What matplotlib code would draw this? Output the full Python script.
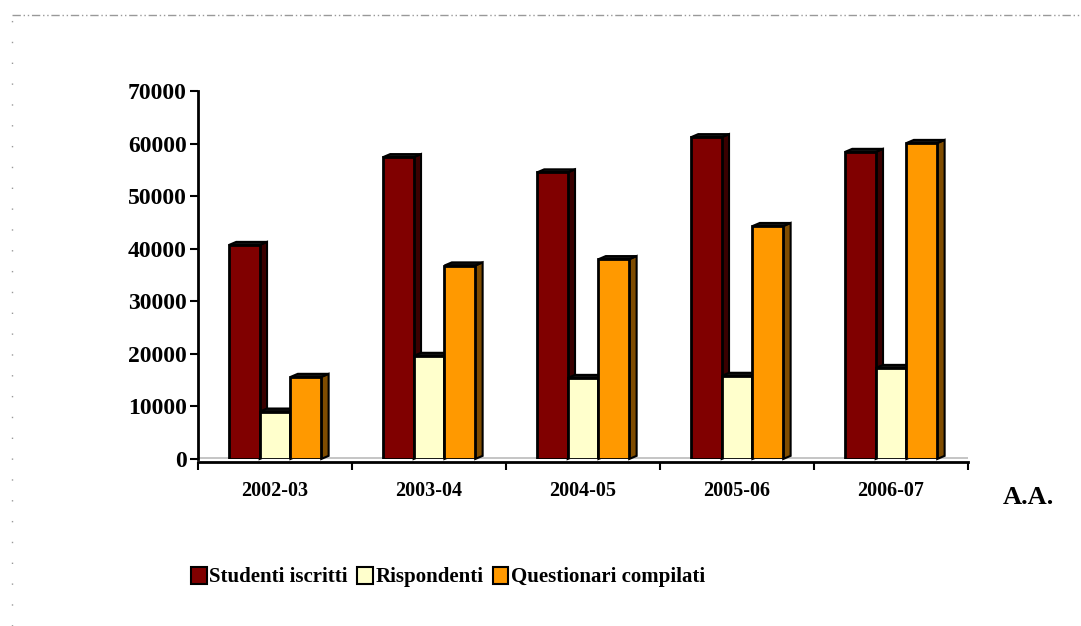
import matplotlib.pyplot as plt
from matplotlib.patches import Polygon, Patch
from matplotlib.lines import Line2D
import numpy as np

years = ["2002-03", "2003-04", "2004-05", "2005-06", "2006-07"]
series_names = ["Studenti iscritti", "Rispondenti", "Questionari compilati"]
studenti = [40700, 57400, 54500, 61200, 58400]
rispondenti = [9000, 19600, 15400, 15800, 17300]
questionari = [15600, 36800, 38000, 44300, 60100]

front_colors = ["#800000", "#ffffcc", "#ff9900"]
side_colors = ["#3a0000", "#80805f", "#7f4c00"]

plt.rcParams['font.family'] = ['Liberation Serif', 'DejaVu Serif']
plt.rcParams['font.weight'] = 'bold'

fig = plt.figure(figsize=(10.81, 6.26), dpi=100)
ax = fig.add_axes([0.1832, 0.2668, 0.8955 - 0.1832, 0.8546 - 0.2668])

x = np.arange(len(years))
w = 0.2
dx = 0.048   # depth of the fake 3d side
dy = 600

for i, vals in enumerate([studenti, rispondenti, questionari]):
    xs = x + (i - 1) * w
    for xc, v in zip(xs, vals):
        r = xc + w / 2
        l = xc - w / 2
        side = Polygon([[r, 0], [r + dx, dy], [r + dx, v + dy], [r, v]],
                       closed=True, facecolor=side_colors[i], edgecolor='black',
                       linewidth=1.5, zorder=2 + i * 2, clip_on=False)
        top = Polygon([[l, v], [l + dx, v + dy], [r + dx, v + dy], [r, v]],
                      closed=True, facecolor='#111111', edgecolor='black',
                      linewidth=1.5, zorder=2 + i * 2, clip_on=False)
        ax.add_patch(side)
        ax.add_patch(top)
    ax.bar(xs, vals, w, color=front_colors[i], edgecolor='black',
           linewidth=2, zorder=3 + i * 2)

# floor line
ax.axhline(250, color='#bbbbbb', linewidth=1.2, zorder=1)

ax.set_xlim(-0.5, len(years) - 0.5)
ax.set_ylim(0, 70000)
ax.set_yticks(range(0, 70001, 10000))
ax.set_yticklabels([str(v) for v in range(0, 70001, 10000)])
ax.set_xticks(x)
ax.set_xticklabels(years)
ax.set_xticks(np.arange(-0.5, len(years), 1), minor=True)
ax.tick_params(axis='x', which='major', length=0, pad=14, labelsize=14.5)
ax.tick_params(axis='x', which='minor', length=6, width=1.5, direction='out')
ax.tick_params(axis='y', length=6, width=1.5, direction='out', pad=2, labelsize=17)
for s in ['top', 'right']:
    ax.spines[s].set_visible(False)
ax.spines['left'].set_linewidth(2)
ax.spines['bottom'].set_linewidth(2)
ax.spines['bottom'].set_position(('outward', 2))

fig.text(1003 / 1081, 1 - 497 / 626, "A.A.", fontsize=19, fontweight='bold',
         ha='left', va='center')

handles = [Patch(facecolor=c, edgecolor='black', linewidth=1.5) for c in front_colors]
fig.legend(handles, series_names, loc='center', bbox_to_anchor=(0.4144, 0.078),
           ncol=3, frameon=False, handlelength=0.75, handleheight=0.85,
           handletextpad=0.12, columnspacing=0.45,
           prop={'family': 'Liberation Serif', 'weight': 'bold', 'size': 15})

# dashed outer frame
fig.add_artist(Line2D([12 / 1081, 1], [1 - 15 / 626, 1 - 15 / 626],
                      color='#999999', linewidth=1, linestyle=(0, (6, 2, 1, 2, 1, 2))))
fig.add_artist(Line2D([12 / 1081, 12 / 1081], [0, 1 - 15 / 626],
                      color='#999999', linewidth=1, linestyle=(0, (1, 14))))

plt.savefig("out.png", dpi=100)
